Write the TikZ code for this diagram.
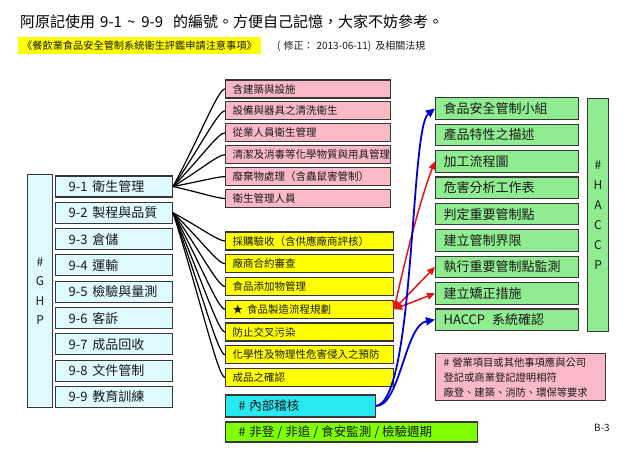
\documentclass[tikz,border=0pt]{standalone}
\usepackage{fontspec}
\setmainfont{Noto Sans CJK TC}
\usetikzlibrary{calc,arrows.meta}
\definecolor{bordc}{RGB}{55,55,55}
\definecolor{txtc}{RGB}{25,25,25}
\definecolor{ghpc}{RGB}{222,250,252}
\definecolor{pinkc}{RGB}{250,185,198}
\definecolor{yelc}{RGB}{255,255,0}
\definecolor{cyanc}{RGB}{40,232,242}
\definecolor{limec}{RGB}{128,255,0}
\definecolor{haccpc}{RGB}{144,236,144}
\definecolor{redc}{RGB}{230,20,20}
\definecolor{bluec}{RGB}{0,0,210}
\newcommand{\LB}[2]{\makebox[#1][l]{#2}}
\newcommand{\fsz}[2]{\fontsize{#1}{#2}\selectfont}
\begin{document}
\begin{tikzpicture}[x=1pt,y=-1pt,
 base/.style={draw=bordc, line width=1.1pt, rectangle, anchor=west, inner ysep=0pt, text=txtc},
 gbox/.style={base, fill=ghpc, minimum height=21pt, inner xsep=13pt, font=\fsz{13}{15}},
 pbox/.style={base, fill=pinkc, minimum height=18pt, inner xsep=7pt, font=\fsz{10.5}{12}},
 ybox/.style={base, fill=yelc, minimum height=18pt, inner xsep=7pt, font=\fsz{10.5}{12}},
 hbox/.style={base, fill=haccpc, minimum height=21.5pt, inner xsep=8pt, font=\fsz{13}{15}},
 conn/.style={line width=1.2pt, draw=black},
 redarr/.style={draw=redc, line width=1.5pt, {Triangle[length=8pt,width=7pt]}-{Triangle[length=8pt,width=7pt]}},
 bluearr/.style={draw=bluec, line width=1.8pt, -{Triangle[length=9pt,width=8pt]}},
]
\useasboundingbox (0,0) rectangle (638,452);

% title
\node[anchor=west, font=\fsz{15}{18}, text=black, inner sep=0pt] (title) at (20,22)
 {阿原記使用\hspace{5pt}9-1\hspace{5pt}\textasciitilde\hspace{6pt}9-9\hspace{10pt}的編號。方便自己記憶，大家不妨參考。};
\node[anchor=west, fill=yelc, minimum height=17pt, inner xsep=4pt, inner ysep=0pt, font=\fsz{10.2}{12}, text=txtc] (sub) at (18,46)
 {《餐飲業食品安全管制系統衛生評鑑申請注意事項》};
\node[anchor=west, font=\fsz{10}{12}, inner sep=0pt, text=txtc] (rev) at (277,46)
 {(\hspace{3pt}修正：\hspace{3pt}2013-06-11)\hspace{4pt}及相關法規};

% GHP
\node[base, anchor=north west, fill=ghpc, minimum width=25pt, minimum height=233pt, inner sep=0pt, align=center, font=\fsz{12}{19.6}] (ghp) at (27,174) {\#\\G\\H\\P};
\foreach \t [count=\i] in {衛生管理,製程與品質,倉儲,運輸,檢驗與量測,客訴,成品回收,文件管制,教育訓練}
  \node[gbox] (g\i) at (55,{186.5+26.3*(\i-1)}) {\LB{91pt}{9-\i\hspace{5pt}\t}};

% pink
\foreach \t [count=\i] in {含建築與設施,設備與器具之清洗衛生,從業人員衛生管理,清潔及消毒等化學物質與用具管理,廢棄物處理（含蟲鼠害管制）,衛生管理人員}
  \node[pbox] (p\i) at (225,{89+21.9*(\i-1)}) {\LB{151pt}{\t}};

% yellow
\foreach \t [count=\i] in {採購驗收（含供應廠商評核）,廠商合約審查,食品添加物管理,★\hspace{4pt}食品製造流程規劃,防止交叉污染,化學性及物理性危害侵入之預防,成品之確認}
  \node[ybox] (y\i) at (225,{241+22.75*(\i-1)}) {\LB{154pt}{\t}};

\node[base, fill=cyanc, minimum height=22pt, inner xsep=13pt, font=\fsz{12.5}{14}] (ia) at (225,406) {\LB{124pt}{\#\hspace{4pt}內部稽核}};
\node[base, fill=limec, minimum height=20pt, inner xsep=13pt, font=\fsz{12.5}{14}] (nb) at (225,432) {\LB{226pt}{\#\hspace{4pt}非登\hspace{3pt}/\hspace{3pt}非追\hspace{3pt}/\hspace{3pt}食安監測\hspace{3pt}/\hspace{3pt}檢驗週期}};

% HACCP
\foreach \t [count=\i] in {食品安全管制小組,產品特性之描述,加工流程圖,危害分析工作表,判定重要管制點,建立管制界限,執行重要管制點監測,建立矯正措施,HACCP\hspace{7pt}系統確認}
  \node[hbox] (h\i) at (435,{108.5+26.4*(\i-1)}) {\LB{127pt}{\t}};
\node[base, anchor=north west, fill=haccpc, minimum width=21pt, minimum height=233pt, inner sep=0pt, align=center, font=\fsz{12}{20}] (hv) at (587,98) {\#\\H\\A\\C\\C\\P};

% note
\node[base, anchor=north west, fill=pinkc, minimum height=47pt, text width=154pt, inner xsep=8pt, align=left, font=\fsz{10.3}{15}] (note) at (435,353)
 {\#\hspace{3pt}營業項目或其他事項應與公司\\登記或商業登記證明相符\\廠登、建築、消防、環保等要求};
\node[font=\fsz{10}{12}, text=txtc] (pg) at (602,428) {B-3};

% connectors
\foreach \i in {1,...,6}
  \draw[conn] (g1.east) .. controls ($(g1.east)!0.55!(p\i.west)$) and ($(p\i.west)+(-7,0)$) .. (p\i.west);
\foreach \i in {1,...,7}
  \draw[conn] (g2.east) .. controls ($(g2.east)!0.55!(y\i.west)$) and ($(y\i.west)+(-7,0)$) .. (y\i.west);

\draw[redarr] (y4.east) .. controls (405,260) and (420,200) .. (h3.west);
\draw[redarr] (y4.east) -- (h7.west);
\draw[redarr] (y4.east) -- (h8.west);

\draw[bluearr] (ia.east) .. controls (415,400) and (410,128) .. (h1.west);
\draw[bluearr] (ia.east) .. controls (400,406) and (405,325) .. (h9.west);
\end{tikzpicture}
\end{document}
